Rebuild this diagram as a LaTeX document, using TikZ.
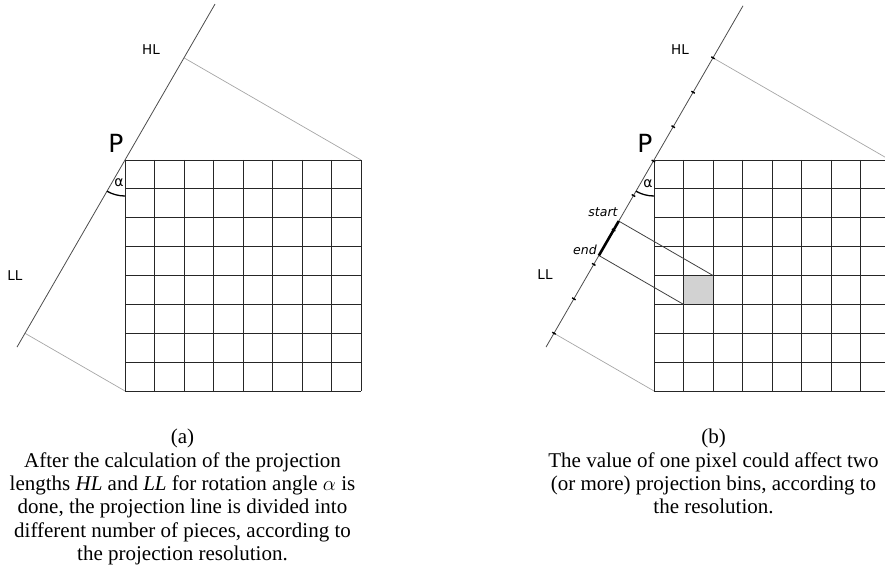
\documentclass[tikz,border=0pt]{standalone}
\usepackage{fontspec}
\setmainfont{Liberation Serif}
\newfontfamily\lblfont{DejaVu Sans}
\usetikzlibrary{calc}
\begin{document}
\begin{tikzpicture}[x=1pt,y=-1pt,
  gridline/.style={line width=0.9pt, black!85},
  projline/.style={line width=0.8pt, black!70},
  perpline/.style={line width=0.7pt, black!35},
  rayline/.style={line width=0.8pt, black!75},
  lbl/.style={font=\lblfont\fontsize{13.5}{15}\selectfont, inner sep=0},
  bigp/.style={font=\lblfont\fontsize{25}{28}\selectfont, inner sep=0},
  alab/.style={font=\lblfont\fontsize{14}{16}\selectfont, inner sep=0},
  selab/.style={font=\lblfont\itshape\fontsize{12.5}{14}\selectfont, inner sep=0},
  captext/.style={font=\fontsize{21}{23.3}\selectfont, inner sep=0, anchor=base},
  tickmark/.style={line width=1.4pt, black},
  binseg/.style={line width=2.6pt, black},
  anglearc/.style={line width=1.3pt, black},
  cellfill/.style={fill=gray!35}
]
\useasboundingbox (0,0) rectangle (885,572);
\begin{scope}
\clip (0,0) rectangle (885,572);
% ---------------- panel (a) ----------------
\coordinate (P1) at (125,160);
\coordinate (T1) at ($(P1)+(90,-155.9)$);
\coordinate (B1) at ($(P1)+(-108,187.1)$);
\coordinate (C1) at (361,160);
\coordinate (D1) at (125,391);
\coordinate (H1) at ($(T1)!(C1)!(B1)$);
\coordinate (L1) at ($(T1)!(D1)!(B1)$);
\draw[perpline] (H1) -- (C1);
\draw[perpline] (L1) -- (D1);
\foreach \i in {0,...,8} {
  \draw[gridline] ($(P1)+(29.5*\i,0)$) -- ++(0,231);
  \draw[gridline] ($(P1)+(0,28.875*\i)$) -- ++(236,0);
}
\draw[projline] (T1) -- (B1);
\draw[anglearc] ($(P1)+(120:36)$) arc[start angle=120, end angle=90, radius=36];
\node[lbl] (hl1) at (151,50) {HL};
\node[bigp] (p1) at (116,143) {P};
\node[alab] (al1) at (119,182.5) {α};
\node[lbl] (ll1) at (15,276) {LL};
% ---------------- panel (b) ----------------
\coordinate (P2) at (654,160);
\coordinate (T2) at ($(P2)+(89,-154.2)$);
\coordinate (B2) at ($(P2)+(-108,187.1)$);
\coordinate (C2) at (890,160);
\coordinate (D2) at (654,391);
\coordinate (H2) at ($(T2)!(C2)!(B2)$);
\coordinate (L2) at ($(T2)!(D2)!(B2)$);
\coordinate (Q1) at ($(P2)+(59,115.5)$);
\coordinate (Q2) at ($(P2)+(29.5,144.375)$);
\coordinate (S2) at ($(T2)!(Q1)!(B2)$);
\coordinate (E2) at ($(T2)!(Q2)!(B2)$);
\fill[cellfill] (Q2) rectangle (Q1);
\draw[perpline] (H2) -- (C2);
\draw[perpline] (L2) -- (D2);
\foreach \i in {0,...,8} {
  \draw[gridline] ($(P2)+(29.5*\i,0)$) -- ++(0,231);
  \draw[gridline] ($(P2)+(0,28.875*\i)$) -- ++(236,0);
}
\draw[projline] (T2) -- (B2);
\foreach \i in {0,...,8} {
  \coordinate (K) at ($(H2)!\i/8!(L2)$);
  \draw[tickmark] ($(K)!2pt!90:(T2)$) -- ($(K)!2pt!-90:(T2)$);
}
\draw[rayline] (S2) -- (Q1);
\draw[rayline] (E2) -- (Q2);
\draw[binseg] (S2) -- (E2);
\draw[anglearc] ($(P2)+(120:36)$) arc[start angle=120, end angle=90, radius=36];
\node[lbl] (hl2) at (680,50) {HL};
\node[bigp] (p2) at (645,143.5) {P};
\node[alab] (al2) at (648,183.5) {α};
\node[lbl] (ll2) at (545,275) {LL};
\node[selab] (st2) at (603,212) {start};
\node[selab] (en2) at (585,250) {end};
\end{scope}
% ---------------- captions ----------------
\node[captext] (ca0) at (182.5,443) {(a)};
\node[captext] (ca1) at (182.5,467) {After the calculation of the projection};
\node[captext] (ca2) at (182.5,490) {lengths \textit{HL} and \textit{LL} for rotation angle $\alpha$ is};
\node[captext] (ca3) at (182.5,513) {done, the projection line is divided into};
\node[captext] (ca4) at (182.5,537) {different number of pieces, according to};
\node[captext] (ca5) at (182.5,560) {the projection resolution.};
\node[captext] (cb0) at (713.5,443) {(b)};
\node[captext] (cb1) at (713.5,467) {The value of one pixel could affect two};
\node[captext] (cb2) at (713.5,490) {(or more) projection bins, according to};
\node[captext] (cb3) at (713.5,513) {the resolution.};
\end{tikzpicture}
\end{document}
